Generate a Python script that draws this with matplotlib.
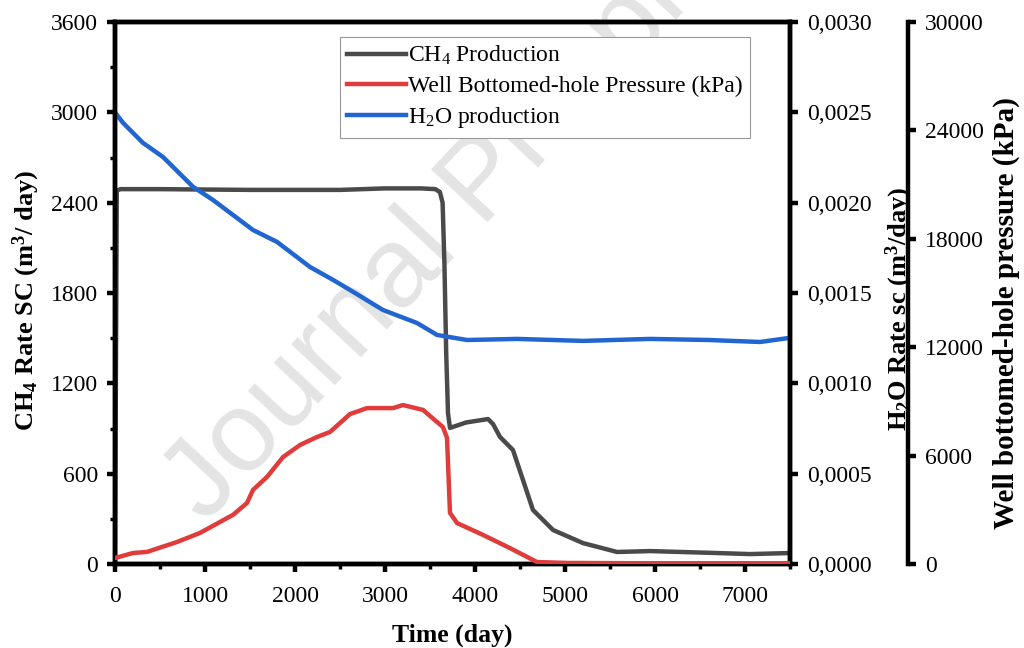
import matplotlib
matplotlib.use("Agg")
import matplotlib.pyplot as plt
from matplotlib.ticker import FuncFormatter, MultipleLocator

plt.rcParams["font.family"] = ["Liberation Serif", "DejaVu Serif"]
plt.rcParams["mathtext.fontset"] = "custom"
plt.rcParams["mathtext.rm"] = "Liberation Serif"
plt.rcParams["mathtext.it"] = "Liberation Serif:italic"
plt.rcParams["mathtext.bf"] = "Liberation Serif:bold"

# CH4 production rate (m3/day, left axis)
ch4_days = [0, 20, 60, 500, 1500, 2500, 3000, 3400, 3560, 3610, 3640, 3660, 3680,
            3700, 3722, 3900, 4144, 4200, 4278, 4422, 4644, 4867, 5200, 5578,
            5944, 6689, 7055, 7500]
ch4_rate = [0, 2480, 2490, 2490, 2485, 2485, 2495, 2495, 2490, 2470, 2400, 2000,
            1400, 1000, 904, 940, 963, 930, 844, 757, 359, 226, 139, 80,
            86, 73, 66, 73]

# Well bottom-hole pressure (kPa, outer right axis)
bhp_days = [0, 200, 355, 690, 944, 1311, 1467, 1533, 1689, 1867, 2056, 2244, 2389,
            2611, 2800, 3089, 3200, 3422, 3644, 3689, 3722, 3800, 4089, 4389,
            4689, 5022, 6000, 7500]
bhp_kpa = [330, 610, 670, 1220, 1720, 2720, 3380, 4100, 4820, 5920, 6590, 7030, 7310,
           8300, 8630, 8630, 8800, 8530, 7580, 6980, 2830, 2270, 1610, 880,
           110, 60, 40, 40]

# H2O production rate (m3/day, inner right axis)
h2o_days = [0, 89, 311, 533, 867, 1089, 1533, 1800, 2167, 2422, 2611, 2978, 3356,
            3578, 3911, 4467, 5200, 5944, 6600, 7167, 7500]
h2o_rate = [0.00250, 0.002442, 0.002331, 0.002253, 0.002088, 0.002015, 0.001849,
            0.001783, 0.001644, 0.001573, 0.001517, 0.001406, 0.001334,
            0.001268, 0.001240, 0.001246, 0.001235, 0.001246, 0.001240,
            0.001229, 0.001252]

ch4_ticks = [0, 600, 1200, 1800, 2400, 3000, 3600]
h2o_ticks = [0, 0.0005, 0.0010, 0.0015, 0.0020, 0.0025, 0.0030]
bhp_ticks = [0, 6000, 12000, 18000, 24000, 30000]
day_ticks = [0, 1000, 2000, 3000, 4000, 5000, 6000, 7000]

tick_fs = 17
spine_lw = 3.2

fig = plt.figure(figsize=(10.24, 6.48), dpi=100)
ax = fig.add_axes([0.1123, 0.1296, 0.6592, 0.8364])
ax_h2o = ax.twinx()
ax_bhp = ax.twinx()
ax_bhp.spines["right"].set_position(("axes", 1.175))

# faint diagonal watermark behind the curves
fig.text(205 / 1024, 1 - 525 / 648, "Journal Pre-proof", family="Liberation Sans",
         fontsize=82, color="#e4e4e4", rotation=47, rotation_mode="anchor",
         ha="left", va="baseline", zorder=0)
ax.set_zorder(2)
ax_h2o.set_zorder(3)
ax_bhp.set_zorder(4)
ax.patch.set_visible(False)

l1, = ax.plot(ch4_days, ch4_rate, color="#4a4a4a", lw=3.2,
              label="CH$_4$ Production")
l2, = ax_bhp.plot(bhp_days, bhp_kpa, color="#e03c3c", lw=3.2,
                  label="Well Bottomed-hole Pressure (kPa)")
l3, = ax_h2o.plot(h2o_days, h2o_rate, color="#2166d0", lw=3.2,
                  label="H$_2$O production")

ax.set_xlim(0, 7500)
ax.set_ylim(0, 3600)
ax_h2o.set_ylim(0, 0.003)
ax_bhp.set_ylim(0, 30000)

ax.set_xticks(day_ticks)
ax.xaxis.set_minor_locator(MultipleLocator(500))
ax.set_yticks(ch4_ticks)
ax.yaxis.set_minor_locator(MultipleLocator(300))
ax_h2o.set_yticks(h2o_ticks)
ax_h2o.yaxis.set_major_formatter(FuncFormatter(lambda v, _: f"{v:.4f}".replace(".", ",")))
ax_bhp.set_yticks(bhp_ticks)

for a in (ax, ax_h2o, ax_bhp):
    for s in a.spines.values():
        s.set_linewidth(spine_lw)
    a.tick_params(which="major", direction="out", length=6, width=3.2,
                  labelsize=tick_fs, pad=6)
    a.tick_params(which="minor", direction="out", length=3.5, width=2.5)
ax.tick_params(axis="x", which="major", pad=10)

ax_bhp.spines["top"].set_visible(False)
ax_bhp.spines["bottom"].set_visible(False)
ax_bhp.spines["left"].set_visible(False)

ax.set_xlabel("Time (day)", fontsize=18.5, fontweight="bold", labelpad=12)
ax.set_ylabel("CH$_\\mathbf{4}$ Rate SC (m$^\\mathbf{3}$/ day)", fontsize=19,
              fontweight="bold")
ax.yaxis.set_label_coords(-0.108, 0.487)
ax_h2o.set_ylabel("H$_\\mathbf{2}$O Rate sc (m$^\\mathbf{3}$/day)", fontsize=19,
                  fontweight="bold")
ax_h2o.yaxis.set_label_coords(1.138, 0.47)
ax_bhp.set_ylabel("Well bottomed-hole pressure (kPa)", fontsize=21,
                  fontweight="bold")
ax_bhp.yaxis.set_label_coords(1.300, 0.463)

leg = ax_bhp.legend(handles=[l1, l2, l3], loc="upper left",
                    bbox_to_anchor=(340 / 1024, 1 - 37 / 648),
                    bbox_transform=fig.transFigure, borderaxespad=0,
                    fontsize=tick_fs, fancybox=False, framealpha=1,
                    edgecolor="#999999", borderpad=0.3, labelspacing=0.35,
                    handlelength=2.5, handletextpad=0.1)
leg.get_frame().set_linewidth(0.8)

fig.savefig("out.png", dpi=100)
